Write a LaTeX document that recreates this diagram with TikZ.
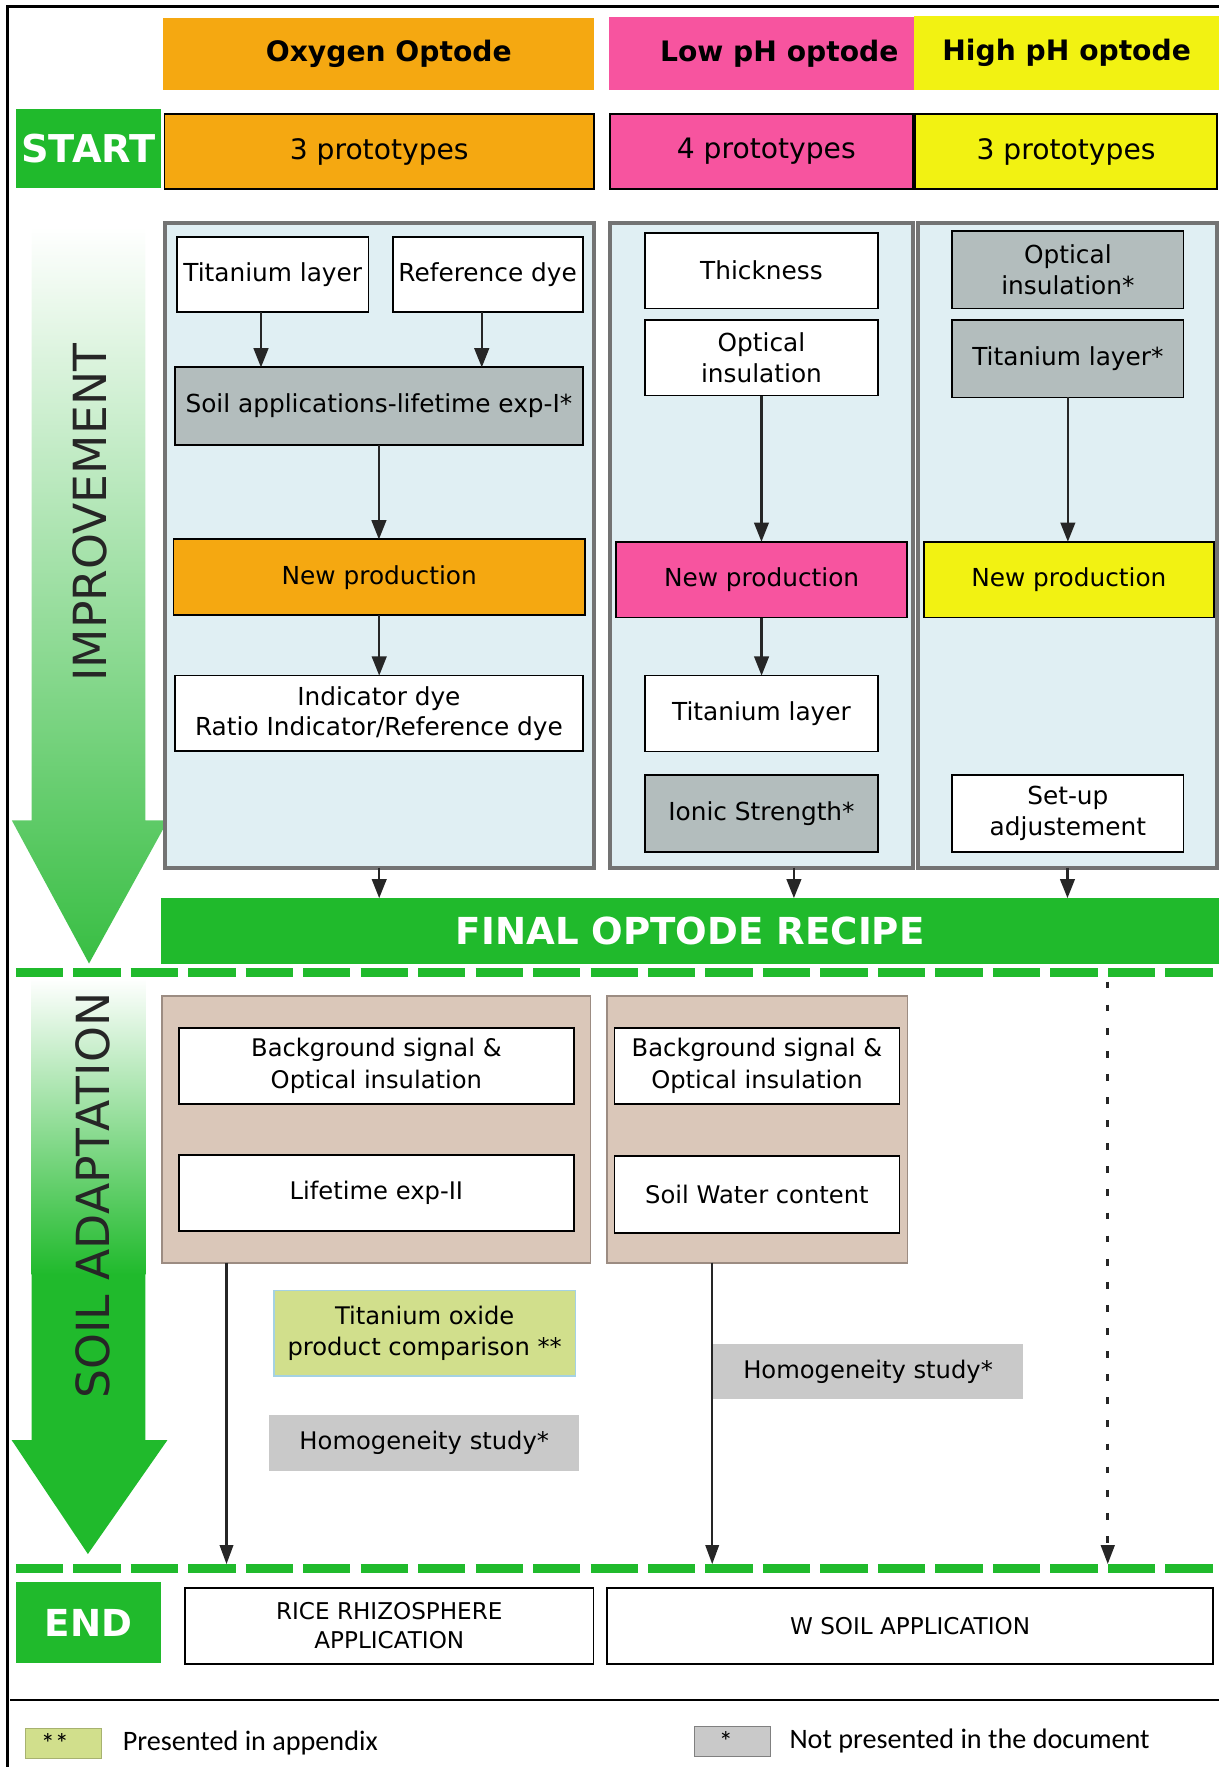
\documentclass[tikz,border=0pt]{standalone}
\usepackage{fontspec}
\setmainfont{DejaVu Sans}
\newfontfamily\legendfont{Carlito}
\usetikzlibrary{arrows.meta,calc}
\definecolor{orng}{HTML}{F5A811}
\definecolor{pnk}{HTML}{F7549F}
\definecolor{yel}{HTML}{F2F212}
\definecolor{grn}{HTML}{20BA2C}
\definecolor{grnb}{HTML}{38BE43}
\definecolor{gbox}{HTML}{B3BDBD}
\definecolor{panelbg}{HTML}{E0EFF3}
\definecolor{panelbd}{HTML}{737373}
\definecolor{tanfill}{HTML}{DAC7B9}
\definecolor{tanbd}{HTML}{9C8C82}
\definecolor{homog}{HTML}{C9C9C9}
\definecolor{tio}{HTML}{D1DF8C}
\definecolor{tiobd}{HTML}{A4D2E3}
\begin{document}
\begin{tikzpicture}[x=1pt,y=-1pt,
  every node/.style={outer sep=0pt},
  bx/.style={anchor=north west, inner sep=0pt, align=center},
  ptxt/.style={font=\fontsize{22}{27}\selectfont},
  stxt/.style={font=\fontsize{21.5}{28}\selectfont},
  wb/.style={bx, ptxt, draw=black, line width=1.6pt, fill=white},
  gb/.style={wb, fill=gbox},
  hdr/.style={bx, font=\fontsize{25}{30}\selectfont\bfseries},
  proto/.style={bx, font=\fontsize{25}{30}\selectfont, draw=black, line width=1.6pt},
  panel/.style={bx, draw=panelbd, line width=3.5pt, fill=panelbg},
  spanel/.style={bx, draw=tanbd, line width=1.5pt, fill=tanfill},
  sb/.style={bx, stxt, draw=black, line width=1.6pt, fill=white},
  greenlbl/.style={bx, fill=grn, text=white, font=\fontsize{33}{36}\selectfont\bfseries},
  arr/.style={draw=black!85, line width=2pt, -{Triangle[length=17pt,width=13pt]}},
  sarr/.style={draw=black!85, line width=1.8pt, -{Triangle[length=17pt,width=12pt]}},
  gdash/.style={draw=grn, line width=8pt, dash pattern=on 42pt off 9pt},
  vlabel/.style={rotate=90, font=\fontsize{40.5}{44}\selectfont, text=black!85},
]
\useasboundingbox (0,0) rectangle (1082,1568);

% frame
\draw[line width=2.5pt] (6.5,1568) -- (6.5,6) -- (1082,6);
\draw[line width=1.5pt] (9,1508.5) -- (1082,1508.5);

% big green arrows
\shade[top color=white, bottom color=grnb] (28,201) -- (129,201) -- (129,728) -- (149,728) -- (79,855) -- (10.5,728) -- (28,728) -- cycle;
\fill[grn] (28,1130) -- (129,1130) -- (129,1278) -- (148.5,1278) -- (78,1379) -- (10.4,1278) -- (28,1278) -- cycle;
\shade[top color=white, bottom color=grn] (28,868) rectangle (129,1131);
\node[vlabel] (impr) at (80,455) {IMPROVEMENT};
\node[vlabel] (soilad) at (82,1061) {SOIL ADAPTATION};

% headers
\node[hdr, fill=orng, minimum width=382, minimum height=64] (hO) at (145,16) {\hspace*{18pt}Oxygen Optode};
\node[hdr, fill=pnk, minimum width=271, minimum height=65] (hL) at (540,15) {\hspace*{32pt}Low pH optode};
\node[hdr, fill=yel, minimum width=271, minimum height=66] (hH) at (811,14) {High pH optode};

\node[greenlbl, font=\fontsize{34}{36}\selectfont\bfseries, minimum width=129, minimum height=70] (start) at (14,97) {START};
\node[proto, fill=orng, minimum width=381, minimum height=67] (pO) at (146,101) {3 prototypes};
\node[proto, fill=pnk, minimum width=269, minimum height=67] (pL) at (541,101) {\hspace*{9pt}4 prototypes};
\node[proto, fill=yel, minimum width=268, minimum height=67] (pH) at (812,101) {3 prototypes};

% improvement panels
\node[panel, minimum width=381, minimum height=572] (P1) at (146,198) {};
\node[panel, minimum width=268.5, minimum height=572] (P2) at (541.5,198) {};
\node[panel, minimum width=265.5, minimum height=572] (P3) at (814.5,198) {};

\node[wb, minimum width=170, minimum height=67] (ti1) at (157,210) {Titanium layer};
\node[wb, minimum width=168.5, minimum height=67] (rd1) at (348.5,210) {Reference dye};
\node[gb, minimum width=361.5, minimum height=68.6] (soil1) at (155.5,326) {Soil applications-lifetime exp-I*};
\node[wb, fill=orng, minimum width=365, minimum height=67.4] (np1) at (154,478.6) {New production};
\node[wb, minimum width=361.5, minimum height=67.2] (ind1) at (155.5,599.5) {Indicator dye\\Ratio Indicator/Reference dye};

\node[wb, minimum width=207.4, minimum height=67.3] (th2) at (572,206.5) {Thickness};
\node[wb, minimum width=207.4, minimum height=67.3] (oi2) at (572,283.7) {Optical\\insulation};
\node[wb, fill=pnk, minimum width=258.4, minimum height=67.3] (np2) at (546.6,480.7) {New production};
\node[wb, minimum width=207.4, minimum height=67.4] (ti2) at (572,599.5) {Titanium layer};
\node[gb, minimum width=207.4, minimum height=68.5] (is2) at (572,687.5) {Ionic Strength*};

\node[gb, minimum width=205.2, minimum height=68.8] (oi3) at (845,205) {Optical\\insulation*};
\node[gb, minimum width=205.2, minimum height=69] (ti3) at (845,283.7) {Titanium layer*};
\node[wb, fill=yel, minimum width=257.7, minimum height=67.3] (np3) at (819.6,480.7) {New production};
\node[wb, minimum width=205.2, minimum height=68.5] (su3) at (845,687.5) {Set-up\\adjustement};

% final recipe
\node[greenlbl, minimum width=939, minimum height=58] (recipe) at (143,797) {FINAL OPTODE RECIPE};

% arrows in improvement
\coordinate (a1) at ($(ti1.south)+(-10.4,0)$);
\coordinate (a2) at ($(rd1.south)+(-5.25,0)$);
\draw[arr] (a1) -- (a1 |- soil1.north);
\draw[arr] (a2) -- (a2 |- soil1.north);
\draw[arr] (soil1.south) -- (soil1.south |- np1.north);
\draw[arr] (np1.south) -- (np1.south |- ind1.north);
\draw[arr] (oi2.south) -- (oi2.south |- np2.north);
\draw[arr] (np2.south) -- (np2.south |- ti2.north);
\draw[arr] (ti3.south) -- (ti3.south |- np3.north);
\coordinate (o2) at ($(P2.south)+(28.75,0)$);
\draw[arr] (P1.south) -- (P1.south |- recipe.north);
\draw[arr] (o2) -- (o2 |- recipe.north);
\draw[arr] (P3.south) -- (P3.south |- recipe.north);

% dashed separators
\coordinate (d1L) at (14,863); \coordinate (d1R) at (1082,863);
\coordinate (d2L) at (14,1392); \coordinate (d2R) at (1082,1392);
\draw[gdash] (d1L) -- (d1R);
\draw[gdash] (d2L) -- (d2R);

% soil adaptation panels
\node[spanel, minimum width=380, minimum height=236.7] (PA) at (144,883.8) {};
\node[sb, minimum width=350, minimum height=67.4] (bgA) at (159,911.9) {Background signal \&\\Optical insulation};
\node[sb, minimum width=350, minimum height=67.2] (ltA) at (159,1025.2) {Lifetime exp-II};
\node[spanel, minimum width=266.8, minimum height=236.7] (PB) at (538.5,883.8) {};
\node[sb, minimum width=253, minimum height=67.4] (bgB) at (545.2,911.9) {Background signal \&\\Optical insulation};
\node[sb, minimum width=253, minimum height=67.8] (swB) at (545.2,1026) {Soil Water content};

\node[bx, stxt, fill=tio, draw=tiobd, line width=1.2pt, minimum width=267.7, minimum height=76] (tio) at (243,1145) {Titanium oxide\\product comparison **};
\node[bx, stxt, fill=homog, minimum width=275.4, minimum height=50.3] (hoA) at (238.8,1255.4) {Homogeneity study*};
\node[bx, stxt, fill=homog, minimum width=275.4, minimum height=49.4] (hoB) at (632.6,1192.4) {Homogeneity study*};

\coordinate (la) at ($(PA.south)+(-133,0)$);
\coordinate (lb) at ($(PB.south)+(-39.9,0)$);
\coordinate (dt) at (983,871);
\coordinate (ea) at (la |- 0,1388);
\coordinate (eb) at (lb |- 0,1388);
\coordinate (ec) at (983,1388);
\draw[sarr] (la) -- (ea);
\draw[sarr] (lb) -- (eb);
\draw[sarr, line width=2.8pt, dash pattern=on 6pt off 14.5pt] (dt) -- (ec);

% end
\node[greenlbl, minimum width=129, minimum height=71.5] (endn) at (14,1404) {END};
\node[sb, font=\fontsize{20.5}{26}\selectfont, minimum width=362.3, minimum height=67.4] (rice) at (164.3,1409) {RICE RHIZOSPHERE\\APPLICATION};
\node[sb, font=\fontsize{20.5}{26}\selectfont, minimum width=538.3, minimum height=67.4] (wsoil) at (538.4,1409) {W SOIL APPLICATION};

% legend
\node[bx, fill=tio, draw=tio!80!black, line width=0.8pt, minimum width=67, minimum height=26.7, font=\legendfont\fontsize{25}{26}\selectfont] (lg1) at (22.8,1534) {\makebox[60pt][l]{\hspace{10pt}**}};
\node[anchor=west, inner sep=0pt, font=\legendfont\fontsize{25}{28}\selectfont] (lt1) at (109,1547) {Presented in appendix};
\node[bx, fill=homog, draw=black!50, line width=0.8pt, minimum width=67, minimum height=26.7, font=\legendfont\fontsize{25}{26}\selectfont] (lg2) at (616.4,1532) {\makebox[60pt][l]{\hspace{18pt}*}};
\node[anchor=west, inner sep=0pt, font=\legendfont\fontsize{25}{28}\selectfont] (lt2) at (700.6,1545) {Not presented in the document};
\end{tikzpicture}
\end{document}
